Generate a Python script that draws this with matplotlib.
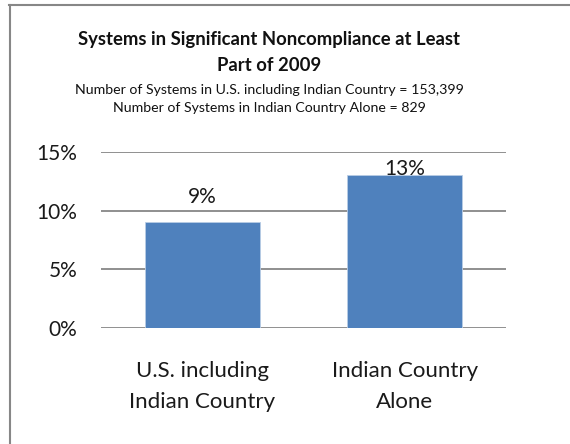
import matplotlib
matplotlib.use("Agg")
import matplotlib.pyplot as plt
from matplotlib.lines import Line2D

# donnees du graphique
categories = ["U.S. including\nIndian Country", "Indian Country\nAlone"]
values = [9, 13]
value_labels = ["9%", "13%"]
y_ticks = [0, 5, 10, 15]
y_tick_labels = ["0%", "5%", "10%", "15%"]

title = "Systems in Significant Noncompliance at Least\nPart of 2009"
subtitle = ("Number of Systems in U.S. including Indian Country = 153,399\n"
            "Number of Systems in Indian Country Alone = 829")

plt.rcParams['font.family'] = ['Lato', 'DejaVu Sans']

W, H = 570, 444
fig = plt.figure(figsize=(W / 100, H / 100), dpi=100)
fig.patch.set_facecolor("white")

# zone de trace (en pixels -> fraction)
ax_left, ax_right, ax_top, ax_bottom = 101, 506, 152, 328
ax = fig.add_axes([ax_left / W, 1 - ax_bottom / H,
                   (ax_right - ax_left) / W, (ax_bottom - ax_top) / H])

x = range(len(categories))
ax.bar(x, values, width=0.57, color="#4F81BD", edgecolor="#B9CDE5", linewidth=0.6, zorder=3)
ax.set_xlim(-0.5, len(categories) - 0.5)
ax.set_ylim(0, 15)

ax.set_yticks(y_ticks)
ax.set_yticklabels(y_tick_labels, fontsize=15, color="#1a1a1a")
ax.set_xticks(list(x))
ax.set_xticklabels(categories, fontsize=16, color="#1a1a1a", linespacing=1.65)
ax.tick_params(axis="y", length=0, pad=17)
ax.tick_params(axis="x", length=0, pad=24)

ax.yaxis.grid(True, color="#878787", linewidth=1.3, zorder=0)
for s in ax.spines.values():
    s.set_visible(False)

# etiquettes de valeurs (la 2e est collee au haut de la zone de trace)
for xi, v, lab in zip(x, values, value_labels):
    ypos = min(v + 2.2, 13.55)
    ax.text(xi, ypos, lab, ha="center", va="center", fontsize=15, color="#1a1a1a")

# titres
fig.text(0.5 * (82 + 457) / W, 1 - 52.5 / H, title, ha="center", va="center",
         fontsize=13.3, fontweight="bold", color="#111111", linespacing=1.6)
fig.text(0.5 * (77 + 462) / W, 1 - 99 / H, subtitle, ha="center", va="center",
         fontsize=10.2, color="#111111", linespacing=1.65)

# bordure du cadre (gauche et haut seulement visibles)
fig.add_artist(Line2D([9.5 / W, 9.5 / W], [0, 1 - 5 / H], transform=fig.transFigure,
                      color="#878787", linewidth=1.5))
fig.add_artist(Line2D([9 / W, 1], [1 - 5.5 / H, 1 - 5.5 / H], transform=fig.transFigure,
                      color="#878787", linewidth=1.5))

fig.savefig("out.png", dpi=100)
